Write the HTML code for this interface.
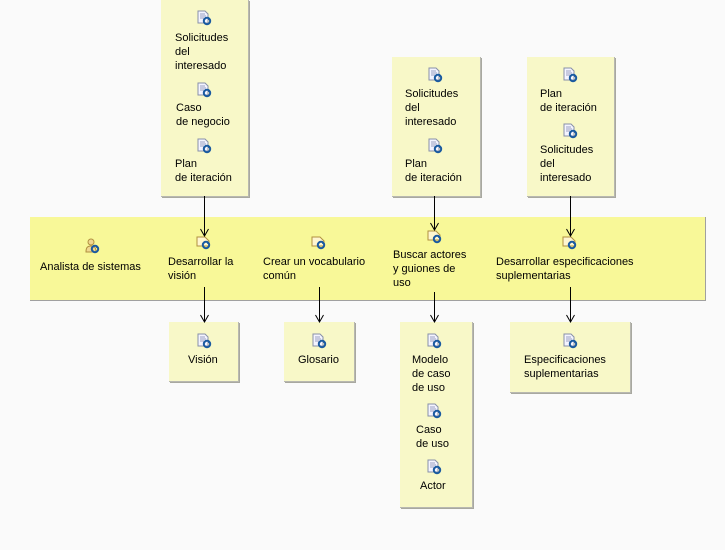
<!DOCTYPE html>
<html><head><meta charset="utf-8"><style>
html,body{margin:0;padding:0;}
body{width:725px;height:550px;background:#fafafa;position:relative;overflow:hidden;font-family:"Liberation Sans",sans-serif;font-size:11px;color:#000;}
.box{position:absolute;background:#f8f8c8;box-shadow:1px 1px 0 #a8a8a0;border-right:1px solid #b8b8b0;border-bottom:1px solid #b8b8b0;}
.band{position:absolute;left:30px;top:217px;width:675px;height:83px;background:#f8f898;border-right:1px solid #a0a0a0;border-bottom:1px solid #a0a0a0;}
.t{position:absolute;line-height:14px;white-space:nowrap;margin-top:1px;}
svg.i{position:absolute;width:16px;height:16px;}
</style></head><body>
<svg width="0" height="0" style="position:absolute">
<defs>
<g id="doc"><path d="M2 1h7l3 3v9H2z" fill="#f4f4ff" stroke="#8890a8" stroke-width="1"/><path d="M4 4h5M4 6h6M4 8h4" stroke="#9aa0c0"/><circle cx="11" cy="11" r="3.2" fill="none" stroke="#1a5aa0" stroke-width="2"/><path d="M13 8l2 2-3 0z" fill="#1a5aa0"/></g>
<g id="task"><path d="M1 3h8l4 4v5H1z" fill="#fff6d0" stroke="#b09040"/><circle cx="10" cy="11" r="3.2" fill="none" stroke="#1a5aa0" stroke-width="2"/><path d="M12 8l2 2-3 0z" fill="#1a5aa0"/></g>
<g id="actor"><circle cx="6" cy="4" r="3" fill="#f0d890" stroke="#b09040"/><path d="M1 14c0-5 2-6 5-6s5 1 5 6z" fill="#f0d890" stroke="#b09040"/><circle cx="10" cy="11" r="3.2" fill="none" stroke="#1a5aa0" stroke-width="2"/><path d="M12 8l2 2-3 0z" fill="#1a5aa0"/></g>
</defs></svg>

<div class="box" style="left:161px;top:0;width:87px;height:196px"></div>
<div class="box" style="left:392px;top:57px;width:88px;height:139px"></div>
<div class="box" style="left:527px;top:57px;width:87px;height:139px"></div>

<svg class="i" style="left:196px;top:10px"><use href="#doc"/></svg>
<div class="t" style="left:175px;top:30px">Solicitudes<br>del<br>interesado</div>
<svg class="i" style="left:196px;top:82px"><use href="#doc"/></svg>
<div class="t" style="left:176px;top:100px">Caso<br>de negocio</div>
<svg class="i" style="left:196px;top:138px"><use href="#doc"/></svg>
<div class="t" style="left:175px;top:156px">Plan<br>de iteración</div>

<svg class="i" style="left:427px;top:67px"><use href="#doc"/></svg>
<div class="t" style="left:405px;top:86px">Solicitudes<br>del<br>interesado</div>
<svg class="i" style="left:427px;top:138px"><use href="#doc"/></svg>
<div class="t" style="left:405px;top:156px">Plan<br>de iteración</div>

<svg class="i" style="left:562px;top:67px"><use href="#doc"/></svg>
<div class="t" style="left:540px;top:86px">Plan<br>de iteración</div>
<svg class="i" style="left:562px;top:123px"><use href="#doc"/></svg>
<div class="t" style="left:540px;top:142px">Solicitudes<br>del<br>interesado</div>

<div class="band"></div>
<svg class="i" style="left:85px;top:238px"><use href="#actor"/></svg>
<div class="t" style="left:40px;top:259px">Analista de sistemas</div>
<svg class="i" style="left:196px;top:234px"><use href="#task"/></svg>
<div class="t" style="left:168px;top:254px">Desarrollar la<br>visión</div>
<svg class="i" style="left:311px;top:234px"><use href="#task"/></svg>
<div class="t" style="left:263px;top:254px">Crear un vocabulario<br>común</div>
<svg class="i" style="left:427px;top:228px"><use href="#task"/></svg>
<div class="t" style="left:393px;top:247px">Buscar actores<br>y guiones de<br>uso</div>
<svg class="i" style="left:562px;top:234px"><use href="#task"/></svg>
<div class="t" style="left:496px;top:254px">Desarrollar especificaciones<br>suplementarias</div>

<div class="box" style="left:169px;top:322px;width:69px;height:59px"></div>
<div class="box" style="left:284px;top:322px;width:70px;height:59px"></div>
<div class="box" style="left:400px;top:322px;width:72px;height:185px"></div>
<div class="box" style="left:510px;top:322px;width:120px;height:70px"></div>

<svg class="i" style="left:196px;top:333px"><use href="#doc"/></svg>
<div class="t" style="left:188px;top:352px">Visión</div>
<svg class="i" style="left:311px;top:333px"><use href="#doc"/></svg>
<div class="t" style="left:298px;top:352px">Glosario</div>
<svg class="i" style="left:426px;top:333px"><use href="#doc"/></svg>
<div class="t" style="left:412px;top:352px">Modelo<br>de caso<br>de uso</div>
<svg class="i" style="left:426px;top:403px"><use href="#doc"/></svg>
<div class="t" style="left:416px;top:422px">Caso<br>de uso</div>
<svg class="i" style="left:426px;top:459px"><use href="#doc"/></svg>
<div class="t" style="left:420px;top:478px">Actor</div>
<svg class="i" style="left:562px;top:333px"><use href="#doc"/></svg>
<div class="t" style="left:524px;top:352px">Especificaciones<br>suplementarias</div>

<svg style="position:absolute;left:0;top:0" width="725" height="550">
<g stroke="#000" stroke-width="1" fill="none">
<path d="M204.5 196V236M200.5 229l4 7 4-7"/>
<path d="M204.5 287V322M200.5 315l4 7 4-7"/>
<path d="M319.5 287V322M315.5 315l4 7 4-7"/>
<path d="M434.5 196V230M430.5 223l4 7 4-7"/>
<path d="M434.5 292V322M430.5 315l4 7 4-7"/>
<path d="M570.5 196V236M566.5 229l4 7 4-7"/>
<path d="M570.5 287V322M566.5 315l4 7 4-7"/>
</g></svg>
</body></html>
